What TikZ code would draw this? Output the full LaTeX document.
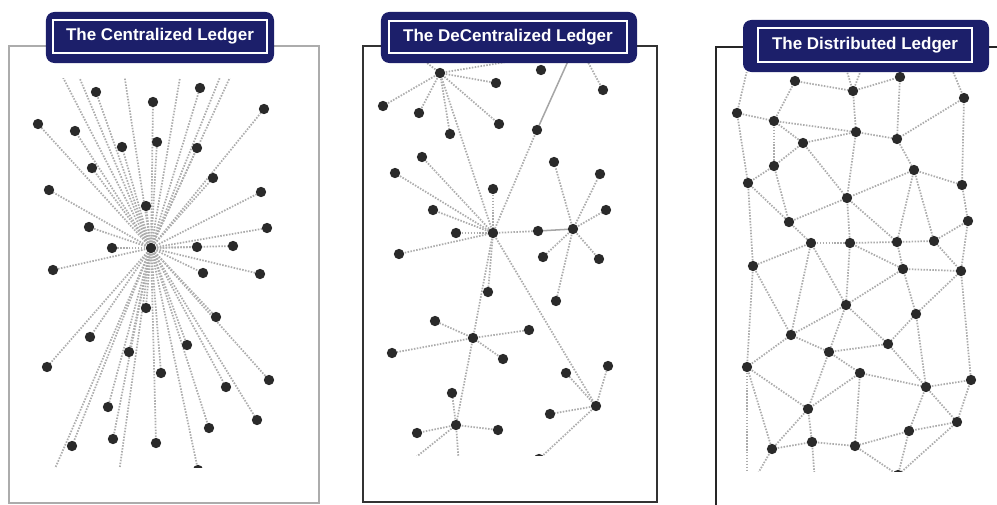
\documentclass[tikz,border=0pt]{standalone}
\usepackage{fontspec}
\setsansfont{Liberation Sans}
\usepackage{xcolor}
\usepackage{tikz}
\usetikzlibrary{positioning}
\definecolor{ledgerblue}{RGB}{28,31,106}
\definecolor{dotgray}{RGB}{42,42,42}
\tikzstyle{dot} = [circle, fill=dotgray, inner sep=0pt, minimum size=0.31cm]
\tikzstyle{link} = [gray!65, line width=1.5pt, dash pattern=on 1.3pt off 1.2pt]
\tikzstyle{solidlink} = [gray!70, line width=1.3pt]
\tikzstyle{titlebox} = [rectangle, rounded corners=0.25cm, fill=ledgerblue]
\tikzstyle{titleframe} = [rectangle, draw=white, line width=0.9pt, text=white, font=\sffamily\bfseries\fontsize{14.5}{17}\selectfont]

\begin{document}
\begin{tikzpicture}[x=0.03cm, y=-0.03cm]
    \useasboundingbox (0,0) rectangle (997,505);

    % panel frames
    \draw [gray!65, line width=1.4pt] (9,46) rectangle (319,503);
    \draw [black!80, line width=1.2pt] (363,46) rectangle (657,502);
    \draw [black!85, line width=1.5pt] (716,505) -- (716,47) -- (997,47);

    % centralized
    \begin{scope}
        \clip (10,78) rectangle (318,467);
        \foreach \n/\x/\y in {1/96/92, 2/153/102, 3/200/88, 4/264/109, 5/38/124, 6/75/131,
            7/122/147, 8/157/142, 9/197/148, 10/92/168, 11/213/178, 12/49/190, 13/261/192,
            14/146/206, 15/89/227, 16/267/228, 17/112/248, 18/151/248, 19/197/247, 20/233/246,
            21/53/270, 22/203/273, 23/260/274, 24/146/308, 25/216/317, 26/90/337, 27/129/352,
            28/187/345, 29/47/367, 30/161/373, 31/269/380, 32/226/387, 33/108/407, 34/257/420,
            35/209/428, 36/72/446, 37/113/439, 38/156/443, 39/198/470}
            \coordinate (c\n) at (\x,\y);
        \foreach \n/\x/\y in {1/54/60, 2/72/60, 3/122/60, 4/183/60, 5/227/60, 6/238/60}
            \coordinate (cu\n) at (\x,\y);
        \coordinate (cb1) at (50,480);
        \coordinate (cb2) at (118,480);

        \foreach \n in {1,...,39}
            \draw [link] (c18) -- (c\n);
        \foreach \n in {1,...,6}
            \draw [link] (c18) -- (cu\n);
        \draw [link] (c18) -- (cb1);
        \draw [link] (c18) -- (cb2);

        \foreach \n in {1,...,39}
            \node (cd\n) [dot] at (c\n) {};
    \end{scope}

    % decentralized
    \begin{scope}
        \clip (364,63) rectangle (656,455);
        \foreach \n/\x/\y in {1/440/73, 2/496/83, 3/541/70, 4/603/90, 5/383/106, 6/419/113,
            7/499/124, 8/450/134, 9/537/130, 10/422/157, 11/554/162, 12/395/173, 13/600/174,
            14/493/189, 15/606/210, 16/433/210, 17/456/233, 18/493/233, 19/538/231, 20/573/229,
            21/399/254, 22/543/257, 23/599/259, 24/488/292, 25/556/301, 26/435/321, 27/529/330,
            28/473/338, 29/392/353, 30/503/359, 31/566/373, 32/608/366, 33/452/393, 34/596/406,
            35/550/414, 36/456/425, 37/417/433, 38/498/430, 39/539/459}
            \coordinate (e\n) at (\x,\y);
        \coordinate (eu1) at (414,53);
        \coordinate (eu2) at (530,58);
        \coordinate (eu3) at (573,50);
        \coordinate (eu4) at (583,53);
        \coordinate (eb1) at (410,462);
        \coordinate (eb2) at (459,465);

        \foreach \a/\b in {1/2, 1/5, 1/6, 1/7, 1/8, 1/18, 9/18, 10/18, 12/18, 14/18, 16/18,
            17/18, 21/18, 18/19, 20/11, 20/13, 20/15, 20/22, 20/23, 20/25, 18/24, 18/28,
            18/34, 28/26, 28/27, 28/29, 28/30, 28/36, 36/33, 36/37, 36/38, 34/31, 34/32,
            34/35, 34/39}
            \draw [link] (e\a) -- (e\b);
        \draw [link] (e1) -- (eu1);
        \draw [link] (e1) -- (eu2);
        \draw [link] (e4) -- (eu4);
        \draw [link] (e36) -- (eb1);
        \draw [link] (e36) -- (eb2);
        \draw [solidlink] (e9) -- (eu3);
        \draw [solidlink] (e19) -- (e20);

        \foreach \n in {1,...,39}
            \node (ed\n) [dot] at (e\n) {};
    \end{scope}

    % distributed
    \begin{scope}
        \clip (717,72) rectangle (997,471);
        \foreach \n/\x/\y in {1/795/81, 2/853/91, 3/900/77, 4/964/98, 5/737/113, 6/774/121,
            7/856/132, 8/803/143, 9/897/139, 10/774/166, 11/914/170, 12/748/183, 13/962/185,
            14/847/198, 15/789/222, 16/968/221, 17/811/243, 18/850/243, 19/897/242, 20/934/241,
            21/753/266, 22/903/269, 23/961/271, 24/846/305, 25/916/314, 26/791/335, 27/829/352,
            28/888/344, 29/747/367, 30/860/373, 31/971/380, 32/926/387, 33/808/409, 34/957/422,
            35/909/431, 36/772/449, 37/812/442, 38/855/446, 39/898/475}
            \coordinate (f\n) at (\x,\y);
        \coordinate (fu1) at (749,62);
        \coordinate (fu2) at (844,62);
        \coordinate (fu3) at (864,62);
        \coordinate (fu4) at (949,62);
        \coordinate (fb1) at (747,482);
        \coordinate (fb2) at (753,482);
        \coordinate (fb3) at (815,482);

        \foreach \a/\b in {1/2, 1/6, 2/3, 2/7, 3/9, 4/9, 4/13, 5/6, 5/12, 6/7, 6/8, 6/10,
            8/7, 8/10, 8/14, 7/9, 7/14, 9/11, 10/12, 10/15, 11/14, 11/13, 11/19, 11/20,
            12/15, 12/21, 13/16, 14/15, 14/18, 14/19, 15/17, 16/20, 16/23, 17/18, 17/21,
            17/26, 17/24, 18/19, 18/22, 18/24, 19/20, 19/22, 20/23, 21/26, 21/29, 22/23,
            22/25, 22/24, 23/25, 23/31, 24/26, 24/27, 24/28, 25/28, 25/32, 26/27, 26/29,
            27/28, 27/30, 27/33, 28/32, 29/33, 29/36, 30/33, 30/38, 30/32, 31/32, 31/34,
            32/34, 32/35, 33/36, 33/37, 34/35, 34/39, 35/38, 35/39, 36/37, 37/38, 38/39}
            \draw [link] (f\a) -- (f\b);
        \draw [link] (f5) -- (fu1);
        \draw [link] (f2) -- (fu2);
        \draw [link] (f2) -- (fu3);
        \draw [link] (f4) -- (fu4);
        \draw [link] (f29) -- (fb1);
        \draw [link] (f36) -- (fb2);
        \draw [link] (f37) -- (fb3);

        \foreach \n in {1,...,39}
            \node (fd\n) [dot] at (f\n) {};
    \end{scope}

    % titles
    \node (central) [titlebox, minimum width=6.84cm, minimum height=1.53cm] at (160,37.5) {};
    \node (centraltext) [titleframe, minimum width=6.42cm, minimum height=0.99cm] at (160,36.5) {The Centralized Ledger};
    \node (decentral) [titlebox, minimum width=7.68cm, minimum height=1.53cm] at (509,37.5) {};
    \node (decentraltext) [titleframe, minimum width=7.14cm, minimum height=0.96cm] at (508,37) {The DeCentralized Ledger};
    \node (distrib) [titlebox, minimum width=7.38cm, minimum height=1.56cm] at (866,46) {};
    \node (distribtext) [titleframe, minimum width=6.42cm, minimum height=1.02cm] at (865,45) {The Distributed Ledger};
\end{tikzpicture}
\end{document}
